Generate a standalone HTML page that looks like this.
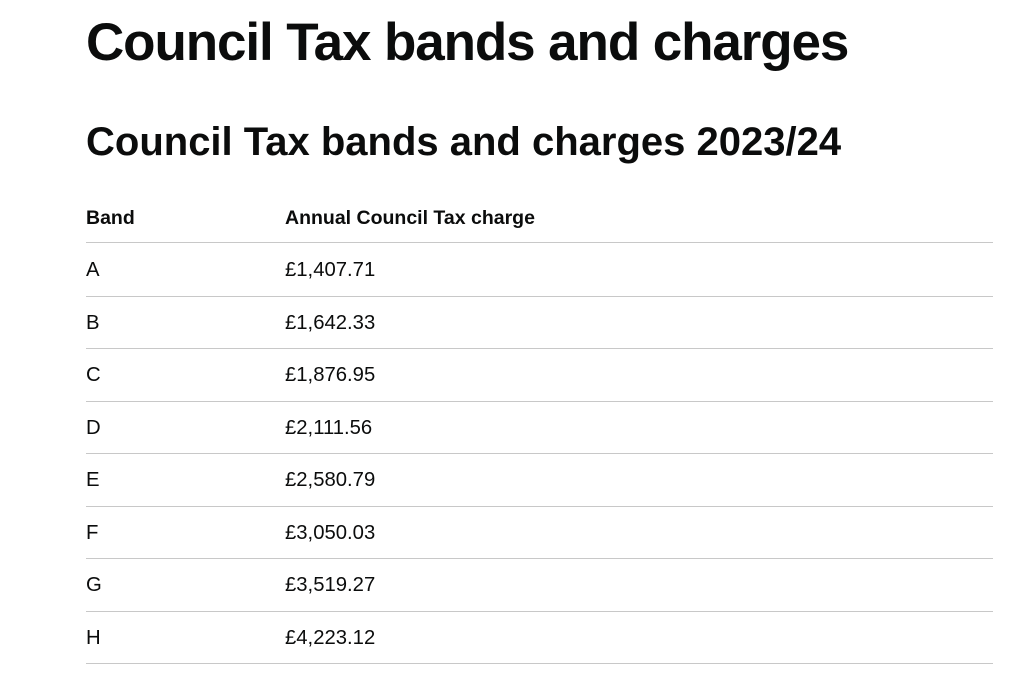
<!DOCTYPE html>
<html><head><meta charset="utf-8"><style>
body{margin:0;background:#fff;width:1024px;height:691px;overflow:hidden;font-family:"Liberation Sans",Arial,sans-serif;color:#0b0c0c}
h1{position:absolute;left:86px;top:11px;margin:0;font-size:53px;font-weight:bold;line-height:64px;letter-spacing:-1.1px}
h2{position:absolute;left:86px;top:118px;margin:0;font-size:40px;font-weight:bold;line-height:48px}
.hd{position:absolute;top:207px;font-size:19.5px;font-weight:bold}
.row{position:absolute;left:86px;width:907px;height:52.5px;border-bottom:1px solid #c8c8c8;font-size:20.3px}
.row span{position:absolute;top:16px}
</style></head><body>
<h1>Council Tax bands and charges</h1>
<h2>Council Tax bands and charges 2023/24</h2>
<div class="hd" style="left:86px">Band</div>
<div class="hd" style="left:285px">Annual Council Tax charge</div>
<div class="row" style="top:190px;height:52px"></div>
<div class="row" style="top:243px"><span style="left:0">A</span><span style="left:199px">£1,407.71</span></div>
<div class="row" style="top:295.5px"><span style="left:0">B</span><span style="left:199px">£1,642.33</span></div>
<div class="row" style="top:348px"><span style="left:0">C</span><span style="left:199px">£1,876.95</span></div>
<div class="row" style="top:400.5px"><span style="left:0">D</span><span style="left:199px">£2,111.56</span></div>
<div class="row" style="top:453px"><span style="left:0">E</span><span style="left:199px">£2,580.79</span></div>
<div class="row" style="top:505.5px"><span style="left:0">F</span><span style="left:199px">£3,050.03</span></div>
<div class="row" style="top:558px"><span style="left:0">G</span><span style="left:199px">£3,519.27</span></div>
<div class="row" style="top:610.5px"><span style="left:0">H</span><span style="left:199px">£4,223.12</span></div>
</body></html>
